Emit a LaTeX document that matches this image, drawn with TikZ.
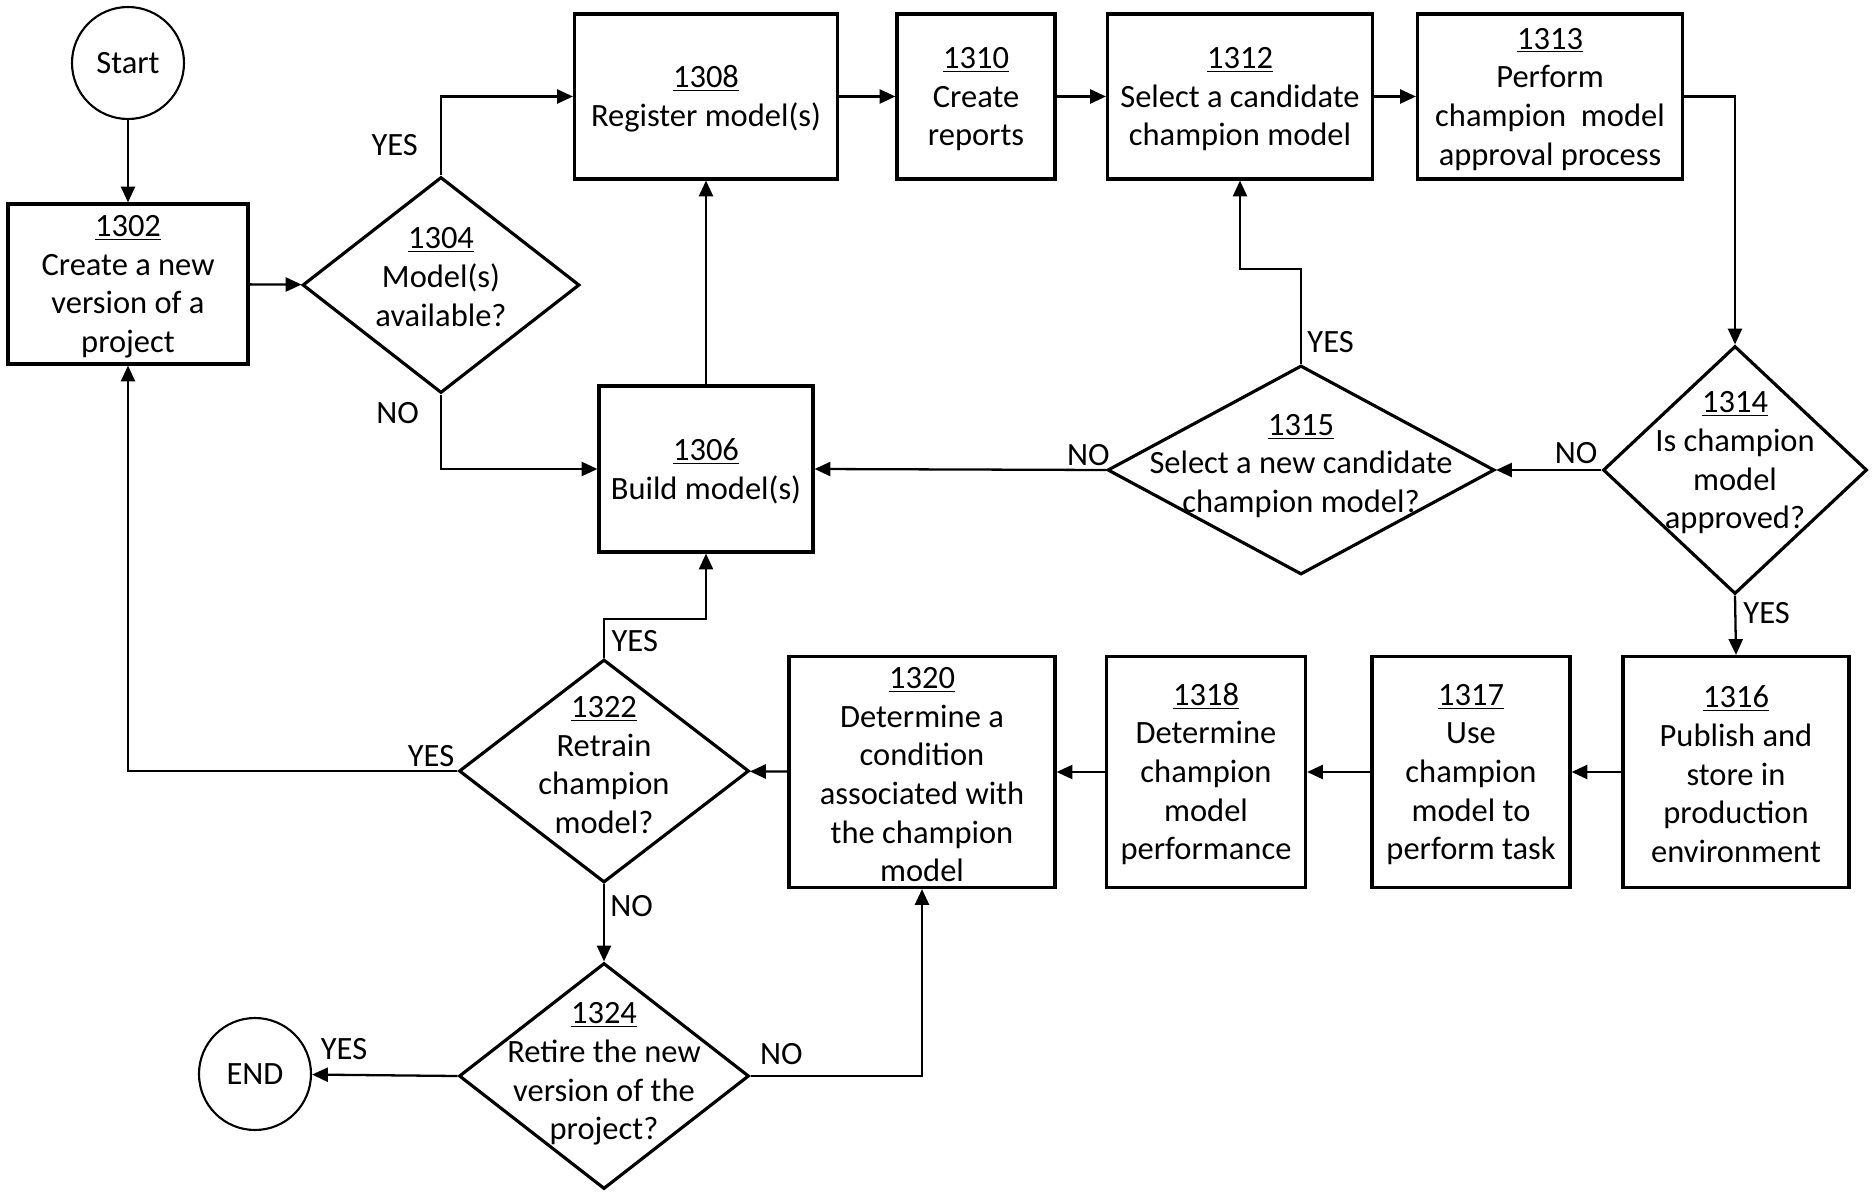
\documentclass[tikz,border=0pt]{standalone}
\usepackage{fontspec}
\setmainfont{Carlito}
\usepackage{tikz}
\usetikzlibrary{shapes.geometric,arrows.meta}
\def\pxu{0.02cm}
\newcommand{\stepno}[1]{\rule{0pt}{15pt}\underline{#1}}

\begin{document}
\begin{tikzpicture}[x=\pxu,y=-\pxu,line width=1.8pt,font=\fontsize{18.5}{22}\selectfont]
	\tikzstyle{arr}=[-{Triangle[length=9pt,width=8pt]},line width=1.3pt]
	\tikzstyle{process}=[rectangle,draw,align=center,inner sep=0pt]
	\tikzstyle{decision}=[diamond,draw,inner sep=0pt]
	\tikzstyle{dtext}=[align=center,inner sep=0pt]
	\tikzstyle{terminal}=[circle,draw,line width=1.2pt,inner sep=0pt,minimum size=112*\pxu]
	\tikzstyle{ans}=[inner sep=2pt]

	\useasboundingbox (0,0) rectangle (1875,1192);

	% Start and the first step
	\node[terminal] (start) at (128,63) {Start};
	\node[process,minimum width=240*\pxu,minimum height=160*\pxu] (b1302) at (128,284)
		{\stepno{1302}\\Create a new\\version of a\\project};

	% Draw the top row of steps
	\foreach \name/\x/\w/\txt in {1308/706/263/{Register model(s)},
		1310/976/158/{Create\\reports},
		1312/1240/265/{Select a candidate\\champion model},
		1313/1550/265/{Perform\\champion~ model\\approval process}}
	\node[process,minimum width=\w*\pxu,minimum height=165*\pxu] (b\name) at (\x,96.5)
		{\stepno{\name}\\\txt};

	\node[process,minimum width=214*\pxu,minimum height=166*\pxu] (b1306) at (706,469)
		{\stepno{1306}\\Build model(s)};

	% Draw the bottom row of steps
	\foreach \name/\x/\w/\txt in {1316/1736/226/{Publish and\\store in\\production\\environment},
		1317/1471/198/{Use\\champion\\model to\\perform task},
		1318/1206/199/{Determine\\champion\\model\\performance},
		1320/922/266/{Determine a\\condition\\associated with\\the champion\\model}}
	\node[process,minimum width=\w*\pxu,minimum height=231*\pxu] (b\name) at (\x,772)
		{\stepno{\name}\\\txt};

	% Draw the decisions
	\node[decision,minimum width=277*\pxu,minimum height=216*\pxu] (d1304) at (441,285) {};
	\node[dtext] (t1304) at (441,277) {\underline{1304}\\Model(s)\\available?};
	\node[decision,minimum width=264*\pxu,minimum height=248*\pxu] (d1314) at (1735,470) {};
	\node[dtext] (t1314) at (1735,463) {\underline{1314}\\Is champion\\model\\approved?};
	\node[decision,minimum width=387*\pxu,minimum height=209*\pxu] (d1315) at (1301,470) {};
	\node[dtext] (t1315) at (1301,466) {\underline{1315}\\Select a new candidate\\champion model?};
	\node[decision,minimum width=290*\pxu,minimum height=223*\pxu] (d1322) at (604,771) {};
	\node[dtext] (t1322) at (604,765) {\underline{1322}\\Retrain\\champion\\model?};
	\node[decision,minimum width=290*\pxu,minimum height=226*\pxu] (d1324) at (604,1076) {};
	\node[dtext] (t1324) at (604,1074) {\underline{1324}\\Retire the new\\version of the\\project?};

	\node[terminal] (end) at (255,1074) {END};

	% Corners of the return lines
	\coordinate (j1315) at (1301,269);
	\coordinate (j1322) at (604,619);

	% Connect the steps
	\draw[arr] (start) -- (b1302);
	\draw[arr] (b1302) -- (d1304);
	\draw[arr] (d1304.north) |- node[ans,pos=0.19,left=10.5pt] {YES} (b1308.west);
	\draw[arr] (d1304.south) |- node[ans,pos=0.125,left=10pt] {NO} (b1306.west);
	\draw[arr] (b1306) -- (b1308);
	\draw[arr] (b1308) -- (b1310);
	\draw[arr] (b1310) -- (b1312);
	\draw[arr] (b1312) -- (b1313);
	\draw[arr] (b1313.east) -| (d1314.north);
	\draw[arr] (d1314.west) -- node[ans,pos=0.24,above=1pt] {NO} (d1315.east);
	\draw[arr] (d1315.north) -- node[ans,pos=0.23,right=1pt] {YES} (j1315) -| (b1312.south);
	\draw[arr] (d1315.west) -- node[ans,pos=0.06,above=0pt] {NO} (b1306.east);
	\draw[arr] (d1314.south) -- node[ans,pos=0.29,right=2pt] {YES} (b1316.north);
	\draw[arr] (b1316) -- (b1317);
	\draw[arr] (b1317) -- (b1318);
	\draw[arr] (b1318) -- (b1320);
	\draw[arr] (b1320) -- (d1322);
	\draw[arr] (d1322.north) -- node[ans,pos=0.44,right=1.7pt] {YES} (j1322) -| (b1306.south);
	\draw[arr] (d1322.west) -| node[ans,pos=0.04,above=0pt] {YES} (b1302.south);
	\draw[arr] (d1322.south) -- node[ans,pos=0.29,right=1pt] {NO} (d1324.north);
	\draw[arr] (d1324.west) -- node[ans,pos=0.78,above=6pt] {YES} (end);
	\draw[arr] (d1324.east) -| node[ans,pos=0.09,above=4pt] {NO} (b1320.south);
\end{tikzpicture}
\end{document}
